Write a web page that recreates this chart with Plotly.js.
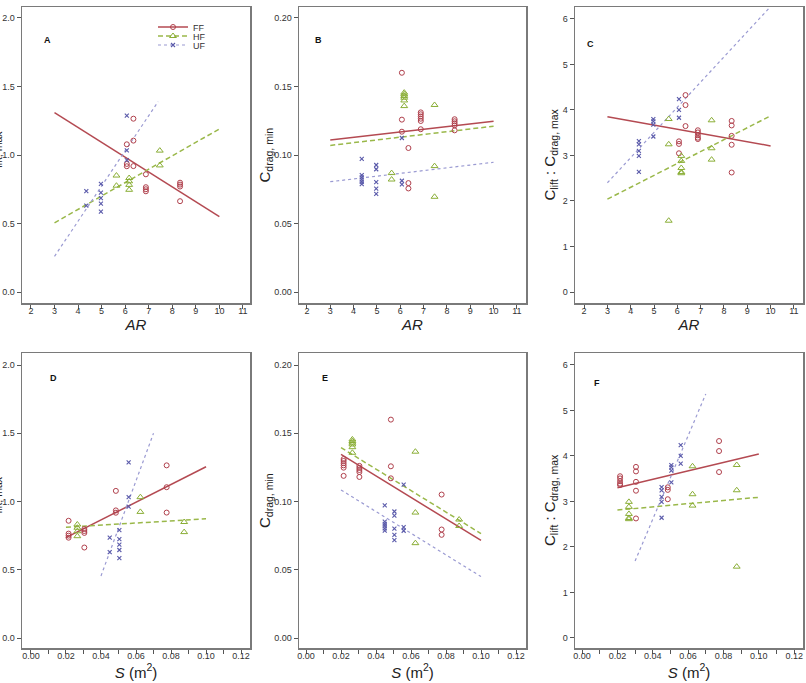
<!DOCTYPE html>
<html><head><meta charset="utf-8">
<script src="https://cdn.plot.ly/plotly-3.0.1.min.js"></script>
<style>html,body{margin:0;padding:0;background:#fff}#chart{width:806px;height:683px}</style>
</head><body><div id="chart"></div>
<script>
// ---- group names ----
const groupNames = ['FF', 'HF', 'UF'];

// ---- C_lift,max (panels A & D) ----
const FF_lift_AR = [6.07,6.07,6.07, 6.35,6.35,6.35, 6.88,6.88,6.88,6.88, 8.33,8.33,8.33,8.33];
const FF_lift_S  = [0.0485,0.0485,0.0485, 0.0775,0.0775,0.0775, 0.0215,0.0215,0.0215,0.0215, 0.0305,0.0305,0.0305,0.0305];
const FF_lift    = [1.078,0.935,0.918, 1.265,1.105,0.919, 0.859,0.765,0.750,0.735, 0.798,0.784,0.770,0.663];

const HF_lift_AR = [5.63,5.63, 6.17,6.17,6.17,6.17, 7.47,7.47];
const HF_lift_S  = [0.0875,0.0875, 0.0265,0.0265,0.0265,0.0265, 0.0625,0.0625];
const HF_lift    = [0.850,0.776, 0.832,0.808,0.782,0.746, 1.032,0.924];

const UF_lift_AR = [4.35,4.35, 4.97,4.97,4.97,4.97,4.97, 6.07,6.07,6.07];
const UF_lift_S  = [0.045,0.045, 0.0505,0.0505,0.0505,0.0505,0.0505, 0.0558,0.0558,0.0558];
const UF_lift    = [0.736,0.630, 0.790,0.725,0.685,0.645,0.586, 1.287,1.033,0.962];

// ---- C_drag,min (panels B & E) ----
const FF_drag_AR = [6.07,6.07,6.07, 6.35,6.35,6.35, 6.88,6.88,6.88,6.88,6.88,6.88, 8.33,8.33,8.33,8.33,8.33];
const FF_drag_S  = [0.0485,0.0485,0.0485, 0.0775,0.0775,0.0775, 0.0215,0.0215,0.0215,0.0215,0.0215,0.0215, 0.0305,0.0305,0.0305,0.0305,0.0305];
const FF_drag    = [0.160,0.1258,0.117, 0.1051,0.0795,0.0756, 0.1311,0.1297,0.1281,0.1265,0.1248,0.1188, 0.1261,0.1246,0.1231,0.1216,0.118];

const HF_drag_AR = [5.63,5.63, 6.17,6.17,6.17,6.17,6.17,6.17, 7.47,7.47,7.47];
const HF_drag_S  = [0.0875,0.0875, 0.0265,0.0265,0.0265,0.0265,0.0265,0.0265, 0.0625,0.0625,0.0625];
const HF_drag    = [0.0868,0.0821, 0.1455,0.1443,0.1431,0.1418,0.1398,0.1357, 0.1365,0.0919,0.0695];

const UF_drag_AR = [4.35,4.35,4.35,4.35,4.35,4.35, 4.97,4.97,4.97,4.97,4.97, 6.07,6.07,6.07];
const UF_drag_S  = [0.045,0.045,0.045,0.045,0.045,0.045, 0.0505,0.0505,0.0505,0.0505,0.0505, 0.0558,0.0558,0.0558];
const UF_drag    = [0.0972,0.0853,0.0837,0.0821,0.0804,0.0787, 0.0927,0.0896,0.0802,0.0755,0.0717, 0.1124,0.0812,0.0786];

// ---- C_lift : C_drag,max (panels C & F) ----
const FF_ratio_AR = [6.07,6.07,6.07, 6.35,6.35,6.35, 6.88,6.88,6.88,6.88,6.88, 8.33,8.33,8.33,8.33,8.33];
const FF_ratio_S  = [0.0485,0.0485,0.0485, 0.0775,0.0775,0.0775, 0.0215,0.0215,0.0215,0.0215,0.0215, 0.0305,0.0305,0.0305,0.0305,0.0305];
const FF_ratio    = [3.31,3.253,3.048, 4.326,4.106,3.645, 3.553,3.505,3.443,3.39,3.36, 3.758,3.659,3.43,3.235,2.626];

const HF_ratio_AR = [5.63,5.63,5.63, 6.17,6.17,6.17,6.17,6.17, 7.47,7.47,7.47];
const HF_ratio_S  = [0.0875,0.0875,0.0875, 0.0265,0.0265,0.0265,0.0265,0.0265, 0.0625,0.0625,0.0625];
const HF_ratio    = [3.80,3.245,1.567, 2.99,2.88,2.725,2.635,2.61, 3.772,3.158,2.908];

const UF_ratio_AR = [4.35,4.35,4.35,4.35,4.35, 4.97,4.97,4.97,4.97, 6.07,6.07,6.07];
const UF_ratio_S  = [0.045,0.045,0.045,0.045,0.045, 0.0505,0.0505,0.0505,0.0505, 0.0558,0.0558,0.0558];
const UF_ratio    = [3.316,3.244,3.1,2.99,2.641, 3.797,3.746,3.678,3.416, 4.238,4.0,3.828];

// ---- fit lines (x ends, y ends) ----
const fitA_FF_x = [3, 10],   fitA_FF_y = [1.31, 0.55];
const fitA_HF_x = [3, 10],   fitA_HF_y = [0.505, 1.19];
const fitA_UF_x = [3, 7.4],  fitA_UF_y = [0.26, 1.39];
const fitB_FF_x = [3, 10],   fitB_FF_y = [0.111, 0.1247];
const fitB_HF_x = [3, 10],   fitB_HF_y = [0.107, 0.121];
const fitB_UF_x = [3, 10],   fitB_UF_y = [0.0805, 0.0947];
const fitC_FF_x = [3, 10],   fitC_FF_y = [3.85, 3.21];
const fitC_HF_x = [3, 10],   fitC_HF_y = [2.04, 3.87];
const fitC_UF_x = [3, 10],   fitC_UF_y = [2.40, 6.27];
const fitD_FF_x = [0.02, 0.10], fitD_FF_y = [0.735, 1.255];
const fitD_HF_x = [0.02, 0.10], fitD_HF_y = [0.812, 0.873];
const fitD_UF_x = [0.04, 0.07], fitD_UF_y = [0.455, 1.50];
const fitE_FF_x = [0.02, 0.10], fitE_FF_y = [0.1345, 0.0715];
const fitE_HF_x = [0.02, 0.10], fitE_HF_y = [0.1395, 0.0765];
const fitE_UF_x = [0.02, 0.10], fitE_UF_y = [0.1085, 0.045];
const fitF_FF_x = [0.02, 0.10], fitF_FF_y = [3.30, 4.04];
const fitF_HF_x = [0.02, 0.10], fitF_HF_y = [2.81, 3.09];
const fitF_UF_x = [0.03, 0.07], fitF_UF_y = [1.69, 5.36];

// ---- styles ----
const style = {
  FF: {mc:'#b0404c', lc:'#b44a52', sym:'circle-open', size:5, dash:'solid', lw:1.5},
  HF: {mc:'#8aae36', lc:'#9ab84a', sym:'triangle-up-open', size:6, dash:'5px,3px', lw:1.5},
  UF: {mc:'#5a5aaa', lc:'#9a9ad2', sym:'x-thin', size:4, dash:'dot', lw:1.2}
};

const pts = {
  A: {FF:[FF_lift_AR,FF_lift], HF:[HF_lift_AR,HF_lift], UF:[UF_lift_AR,UF_lift]},
  B: {FF:[FF_drag_AR,FF_drag], HF:[HF_drag_AR,HF_drag], UF:[UF_drag_AR,UF_drag]},
  C: {FF:[FF_ratio_AR,FF_ratio], HF:[HF_ratio_AR,HF_ratio], UF:[UF_ratio_AR,UF_ratio]},
  D: {FF:[FF_lift_S,FF_lift], HF:[HF_lift_S,HF_lift], UF:[UF_lift_S,UF_lift]},
  E: {FF:[FF_drag_S,FF_drag], HF:[HF_drag_S,HF_drag], UF:[UF_drag_S,UF_drag]},
  F: {FF:[FF_ratio_S,FF_ratio], HF:[HF_ratio_S,HF_ratio], UF:[UF_ratio_S,UF_ratio]}
};
const fits = {
  A: {FF:[fitA_FF_x,fitA_FF_y], HF:[fitA_HF_x,fitA_HF_y], UF:[fitA_UF_x,fitA_UF_y]},
  B: {FF:[fitB_FF_x,fitB_FF_y], HF:[fitB_HF_x,fitB_HF_y], UF:[fitB_UF_x,fitB_UF_y]},
  C: {FF:[fitC_FF_x,fitC_FF_y], HF:[fitC_HF_x,fitC_HF_y], UF:[fitC_UF_x,fitC_UF_y]},
  D: {FF:[fitD_FF_x,fitD_FF_y], HF:[fitD_HF_x,fitD_HF_y], UF:[fitD_UF_x,fitD_UF_y]},
  E: {FF:[fitE_FF_x,fitE_FF_y], HF:[fitE_HF_x,fitE_HF_y], UF:[fitE_UF_x,fitE_UF_y]},
  F: {FF:[fitF_FF_x,fitF_FF_y], HF:[fitF_HF_x,fitF_HF_y], UF:[fitF_UF_x,fitF_UF_y]}
};

const panels = ['A','B','C','D','E','F'];
const axN = {A:'', B:'2', C:'3', D:'4', E:'5', F:'6'};

function markerFor(g) {
  const s = style[g];
  if (g === 'UF') return {symbol:s.sym, size:s.size, color:s.mc, line:{color:s.mc, width:1.1}};
  return {symbol:s.sym, size:s.size, color:s.mc, line:{color:s.mc, width:1}};
}

const traces = [];
panels.forEach(p => {
  const xa = 'x' + axN[p], ya = 'y' + axN[p];
  groupNames.forEach(g => {
    const s = style[g];
    traces.push({type:'scatter', mode:'lines', x:fits[p][g][0], y:fits[p][g][1], xaxis:xa, yaxis:ya,
      line:{color:s.lc, width:s.lw, dash:s.dash}, showlegend:false, hoverinfo:'skip'});
  });
  groupNames.forEach(g => {
    traces.push({type:'scatter', mode:'markers', x:pts[p][g][0], y:pts[p][g][1], xaxis:xa, yaxis:ya,
      marker:markerFor(g), showlegend:false, cliponaxis:true});
  });
});
// legend entries (line + marker samples), one legend box per entry for tight spacing
const legendIds = ['legend', 'legend2', 'legend3'];
groupNames.forEach((g, i) => {
  const s = style[g];
  traces.push({type:'scatter', mode:'lines+markers', name:g, x:[null], y:[null],
    line:{color:s.lc, width:s.lw, dash:s.dash}, marker:markerFor(g), showlegend:true, legend:legendIds[i]});
});

const W = 806, H = 683;
const colX = [[22,250],[299,526],[575,803]];
const rowY = [[7,303],[353,648]];
const dom = (a, b, tot) => [a/tot, b/tot];

const FONT = 'Liberation Sans, Arial, sans-serif';
const tickFont = {family:FONT, size:9, color:'#333'};
const titleFont = {family:FONT, size:15, color:'#222'};

function xAxis(col, row, range, isS) {
  const a = {
    domain: dom(colX[col][0], colX[col][1], W), range: range, anchor: 'y' + axN[panels[row*3+col]],
    showline:true, mirror:true, linecolor:'#7a7a7a', linewidth:1.5,
    showgrid:false, zeroline:false, ticks:'outside', ticklen:4, tickcolor:'#555', tickwidth:1,
    tickfont: tickFont, ticklabelstandoff: -5,
    title: {text: isS ? '<i>S</i> (m<sup>2</sup>)' : '<i>AR</i>', font: titleFont, standoff: 0}
  };
  if (isS) {
    a.tick0 = 0; a.dtick = 0.02; a.tickformat = '.2f';
    a.minor = {dtick:0.01, ticks:'outside', ticklen:4, tickcolor:'#555', tickwidth:1, showgrid:false};
  } else {
    a.tick0 = 0; a.dtick = 1;
  }
  return a;
}
function yAxis(col, row, range, dtick, fmt) {
  return {
    domain: [1 - rowY[row][1]/H, 1 - rowY[row][0]/H], range: range, anchor: 'x' + axN[panels[row*3+col]],
    showline:true, mirror:true, linecolor:'#7a7a7a', linewidth:1.5,
    showgrid:false, zeroline:false, ticks:'outside', ticklen:4, tickcolor:'#555', tickwidth:1,
    tickfont: tickFont, tick0:0, dtick:dtick, tickformat: fmt
  };
}

// y-axis titles (placed as rotated text beside each panel)
const yTitles = ['C<sub>lift, max</sub>', 'C<sub>drag, min</sub>', 'C<sub>lift</sub> : C<sub>drag, max</sub>'];
const yTitleRight = [6, 277, 562];   // right edge (px) of each column's title
const panelLetters = ['A','B','C','D','E','F'];
const letterPos = [[42,33],[318,33],[596,37],[48,378],[325,378],[602,383]];

const annotations = [];
[0,1].forEach(r => {
  [0,1,2].forEach(c => {
    annotations.push({text: yTitles[c], textangle:-90, xref:'paper', yref:'paper',
      x: yTitleRight[c]/W, y: 1 - (rowY[r][0]+rowY[r][1])/2/H, xanchor:'right', yanchor:'middle',
      showarrow:false, font: titleFont});
  });
});
panelLetters.forEach((t, i) => {
  annotations.push({text:'<b>'+t+'</b>', xref:'paper', yref:'paper', x:letterPos[i][0]/W, y:1-letterPos[i][1]/H,
    showarrow:false, font:{family:FONT, size:9, color:'#111'}});
});

const legendY = [27, 36, 45];
const legendBase = (y) => ({x:153/W, y:1-y/H, xanchor:'left', yanchor:'middle', bgcolor:'rgba(0,0,0,0)',
  font:{family:FONT, size:9, color:'#333'}, itemwidth:30, tracegroupgap:0});

const layout = {
  width: W, height: H,
  margin: {l:0, r:0, t:0, b:0},
  paper_bgcolor:'#ffffff', plot_bgcolor:'#ffffff',
  font: {family:FONT, color:'#222'},
  xaxis:  xAxis(0,0,[1.62,11.3],false),
  xaxis2: xAxis(1,0,[1.66,11.39],false),
  xaxis3: xAxis(2,0,[1.61,11.39],false),
  xaxis4: xAxis(0,1,[-0.0051,0.1251],true),
  xaxis5: xAxis(1,1,[-0.004,0.1257],true),
  xaxis6: xAxis(2,1,[-0.004,0.125],true),
  yaxis:  yAxis(0,0,[-0.08,2.08],0.5,'.1f'),
  yaxis2: yAxis(1,0,[-0.008,0.208],0.05,'.2f'),
  yaxis3: yAxis(2,0,[-0.24,6.26],1,'d'),
  yaxis4: yAxis(0,1,[-0.073,2.088],0.5,'.1f'),
  yaxis5: yAxis(1,1,[-0.0073,0.2088],0.05,'.2f'),
  yaxis6: yAxis(2,1,[-0.22,6.26],1,'d'),
  showlegend: true,
  legend: legendBase(legendY[0]),
  legend2: legendBase(legendY[1]),
  legend3: legendBase(legendY[2]),
  annotations: annotations
};

Plotly.newPlot('chart', traces, layout, {displayModeBar:false, staticPlot:true});
</script>
</body></html>
